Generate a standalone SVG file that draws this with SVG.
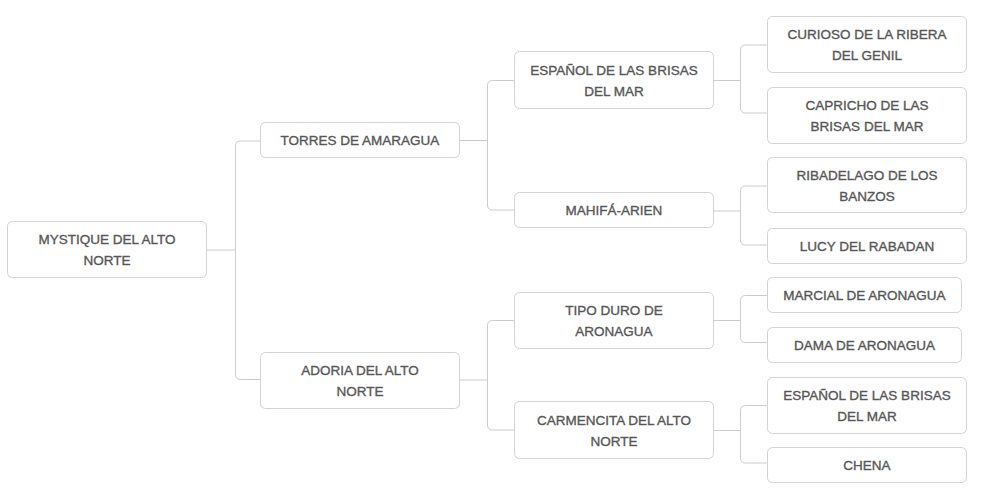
<svg xmlns="http://www.w3.org/2000/svg" width="989" height="498" viewBox="0 0 989 498">
<style>
.n rect{fill:#fff;stroke:#d3d3d3;stroke-width:1}
.n text{font-family:"Liberation Sans",Arial,sans-serif;font-size:13.5px;fill:#575757;text-anchor:middle;stroke:#575757;stroke-width:0.35}
.c path{fill:none;stroke:#cccccc;stroke-width:1}
</style>
<rect width="989" height="498" fill="#fff"/>
<g class="c" id="connectors">
<path d="M207 250 H235.5"/>
<path d="M260 141 H240.5 Q235.5 141 235.5 146 V374.5 Q235.5 379.5 240.5 379.5 H260"/>
<path d="M460 140.5 H487.5"/>
<path d="M514 80.5 H492.5 Q487.5 80.5 487.5 85.5 V205 Q487.5 210 492.5 210 H514"/>
<path d="M460 380 H487.5"/>
<path d="M514 320.5 H492.5 Q487.5 320.5 487.5 325.5 V425 Q487.5 430 492.5 430 H514"/>
<path d="M714 80.5 H740.5"/>
<path d="M767 45 H745.5 Q740.5 45 740.5 50 V108 Q740.5 113 745.5 113 H767"/>
<path d="M714 211 H740.5"/>
<path d="M767 186 H745.5 Q740.5 186 740.5 191 V240 Q740.5 245 745.5 245 H767"/>
<path d="M714 320.5 H740.5"/>
<path d="M767 295.5 H745.5 Q740.5 295.5 740.5 300.5 V337.5 Q740.5 342.5 745.5 342.5 H767"/>
<path d="M714 430.5 H740.5"/>
<path d="M767 405.5 H745.5 Q740.5 405.5 740.5 410.5 V458 Q740.5 463 745.5 463 H767"/>
</g>
<g class="n" id="n-root">
<rect x="7.5" y="221.5" width="199" height="56" rx="5"/>
<text x="107" y="244">MYSTIQUE DEL ALTO</text>
<text x="107" y="265">NORTE</text>
</g>
<g class="n" id="n-torres">
<rect x="260.5" y="122.5" width="199" height="35" rx="5"/>
<text x="360" y="145">TORRES DE AMARAGUA</text>
</g>
<g class="n" id="n-adoria">
<rect x="260.5" y="352.5" width="199" height="56" rx="5"/>
<text x="360" y="375">ADORIA DEL ALTO</text>
<text x="360" y="396">NORTE</text>
</g>
<g class="n" id="n-espanol">
<rect x="514.5" y="51.5" width="199" height="57" rx="5"/>
<text x="614" y="74.5">ESPAÑOL DE LAS BRISAS</text>
<text x="614" y="95.5">DEL MAR</text>
</g>
<g class="n" id="n-mahifa">
<rect x="514.5" y="192.5" width="199" height="35" rx="5"/>
<text x="614" y="215">MAHIFÁ-ARIEN</text>
</g>
<g class="n" id="n-tipo">
<rect x="514.5" y="292.5" width="199" height="56" rx="5"/>
<text x="614" y="315">TIPO DURO DE</text>
<text x="614" y="336">ARONAGUA</text>
</g>
<g class="n" id="n-carmencita">
<rect x="514.5" y="401.5" width="199" height="57" rx="5"/>
<text x="614" y="424.5">CARMENCITA DEL ALTO</text>
<text x="614" y="445.5">NORTE</text>
</g>
<g class="n" id="n-curioso">
<rect x="767.5" y="16.5" width="199" height="56" rx="5"/>
<text x="867" y="39">CURIOSO DE LA RIBERA</text>
<text x="867" y="60">DEL GENIL</text>
</g>
<g class="n" id="n-capricho">
<rect x="767.5" y="87.5" width="199" height="56" rx="5"/>
<text x="867" y="110">CAPRICHO DE LAS</text>
<text x="867" y="131">BRISAS DEL MAR</text>
</g>
<g class="n" id="n-ribadelago">
<rect x="767.5" y="157.5" width="199" height="55" rx="5"/>
<text x="867" y="179.5">RIBADELAGO DE LOS</text>
<text x="867" y="200.5">BANZOS</text>
</g>
<g class="n" id="n-lucy">
<rect x="767.5" y="228.5" width="199" height="35" rx="5"/>
<text x="867" y="251">LUCY DEL RABADAN</text>
</g>
<g class="n" id="n-marcial">
<rect x="767.5" y="277.5" width="194" height="35" rx="5"/>
<text x="864.5" y="300">MARCIAL DE ARONAGUA</text>
</g>
<g class="n" id="n-dama">
<rect x="767.5" y="327.5" width="194" height="35" rx="5"/>
<text x="864.5" y="350">DAMA DE ARONAGUA</text>
</g>
<g class="n" id="n-espanol2">
<rect x="767.5" y="377.5" width="199" height="56" rx="5"/>
<text x="867" y="400">ESPAÑOL DE LAS BRISAS</text>
<text x="867" y="421">DEL MAR</text>
</g>
<g class="n" id="n-chena">
<rect x="767.5" y="447.5" width="199" height="35" rx="5"/>
<text x="867" y="470">CHENA</text>
</g>
</svg>
